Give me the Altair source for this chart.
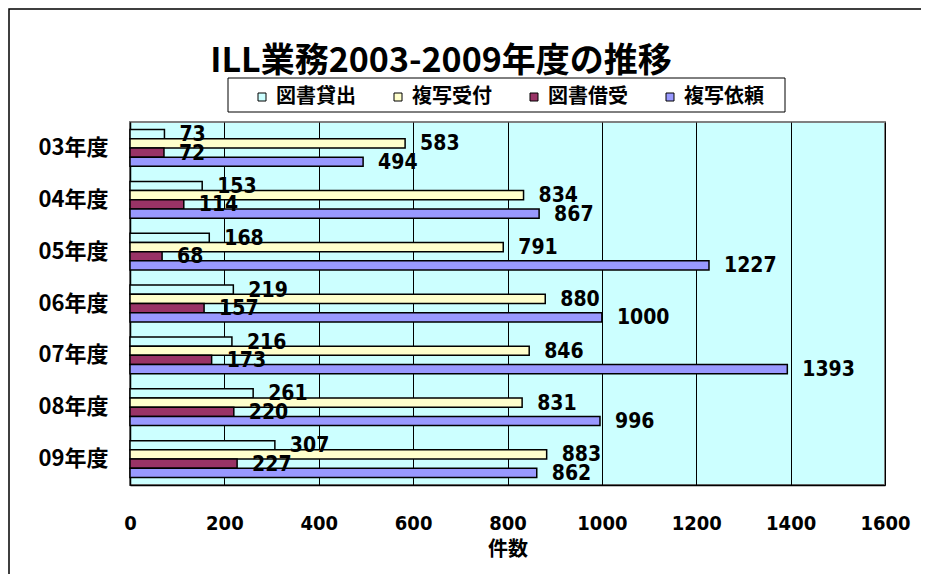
import altair as alt
import pandas as pd

years = ["03年度", "04年度", "05年度", "06年度", "07年度", "08年度", "09年度"]
series = ["図書貸出", "複写受付", "図書借受", "複写依頼"]
lending = [73, 153, 168, 219, 216, 261, 307]
copy_recv = [583, 834, 791, 880, 846, 831, 883]
borrow = [72, 114, 68, 157, 173, 220, 227]
copy_req = [494, 867, 1227, 1000, 1393, 996, 862]
colors = ["#CCFFFF", "#FFFFCC", "#993366", "#9999FF"]
title_text = "ILL業務2003-2009年度の推移"
x_ticks = [0, 200, 400, 600, 800, 1000, 1200, 1400, 1600]

rows = []
for i, y in enumerate(years):
    for s, vals in zip(series, [lending, copy_recv, borrow, copy_req]):
        rows.append({"年度": y, "系列": s, "件数": vals[i]})
df = pd.DataFrame(rows)

JP = "Noto Sans CJK JP"
NUM = "Liberation Sans Narrow, DejaVu Sans Condensed, Liberation Sans"

y_enc = alt.Y(
    "年度:N",
    sort=years,
    scale=alt.Scale(paddingInner=0.29, paddingOuter=0.145),
    axis=alt.Axis(
        title=None, ticks=False, labelPadding=22, labelFont=JP,
        labelFontSize=22, labelFontWeight="bold", labelColor="black",
        domainColor="black", domainWidth=1.5,
    ),
)
x_enc = alt.X(
    "件数:Q",
    scale=alt.Scale(domain=[0, 1600], nice=False),
    axis=alt.Axis(
        title="件数", values=x_ticks, format="d", ticks=False, labelPadding=28,
        labelFlush=False,
        labelFont=NUM, labelFontSize=20, labelFontWeight="bold",
        labelColor="black", titleFont=JP, titleFontSize=20,
        titleFontWeight="bold", titleColor="black", titlePadding=6,
        grid=True, gridColor="black", gridWidth=1,
        domainColor="black", domainWidth=1.5,
    ),
)
yoff = alt.YOffset("系列:N", sort=series)

base = alt.Chart(df)

bars = base.mark_bar(stroke="black", strokeWidth=1.5).encode(
    y=y_enc,
    x=x_enc,
    yOffset=yoff,
    color=alt.Color(
        "系列:N",
        scale=alt.Scale(domain=series, range=colors),
        legend=alt.Legend(
            title=None, orient="none", legendX=122, legendY=-35,
            direction="horizontal", columns=4, columnPadding=32,
            labelFont=JP, labelFontSize=20, labelFontWeight="bold",
            labelColor="black", labelOffset=4, symbolType="square",
            symbolSize=64, symbolStrokeColor="black", symbolStrokeWidth=1,
            padding=0,
        ),
    ),
)

labels = base.mark_text(
    align="left", baseline="middle", dx=15, dy=1, font=NUM,
    fontSize=21, fontWeight="bold", color="black",
).encode(y=y_enc, x=x_enc, yOffset=yoff, text="件数:Q")

one = pd.DataFrame({"t": [title_text]})
frame = alt.Chart(one).mark_rect(fillOpacity=0, stroke="black", strokeWidth=1.5).encode(
    x=alt.value(-121), x2=alt.value(900), y=alt.value(-113), y2=alt.value(500)
)
legend_box = alt.Chart(one).mark_rect(fill="white", stroke="black", strokeWidth=1).encode(
    x=alt.value(98), x2=alt.value(655), y=alt.value(-44), y2=alt.value(-10)
)
title = alt.Chart(one).mark_text(
    font=JP, fontSize=34, fontWeight="bold", color="black",
    align="center", baseline="middle",
).encode(text="t:N", x=alt.value(311), y=alt.value(-60))

chart = alt.layer(frame, legend_box, bars, labels, title).properties(
    width=755, height=363,
    autosize=alt.AutoSizeParams(type="none"),
    padding={"left": 122, "top": 114, "right": 36, "bottom": 89},
    background="white",
).configure_view(fill="#CCFFFF", stroke="#808080", strokeWidth=2)

chart.save("out.html", embed_options={"renderer": "svg", "actions": False})
